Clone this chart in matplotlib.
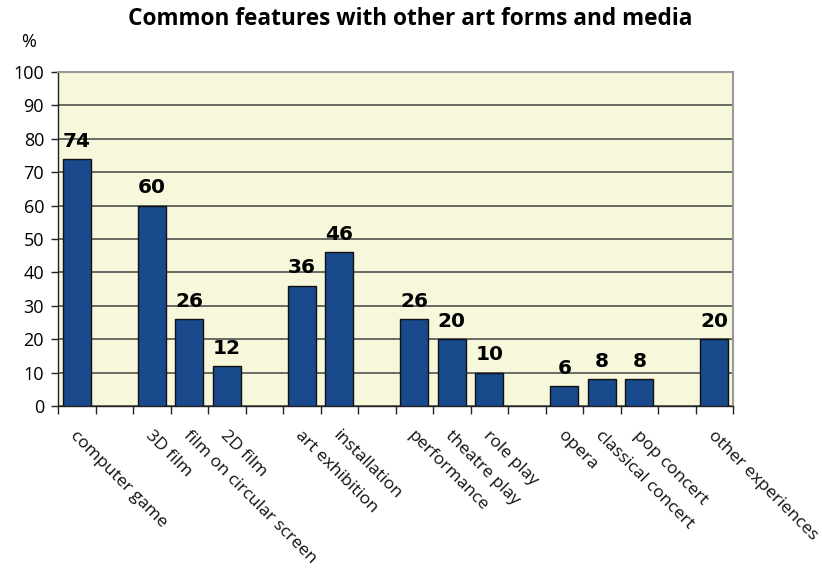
import matplotlib
matplotlib.use("Agg")
import matplotlib.pyplot as plt
import matplotlib.transforms as mtransforms

categories = ["computer game", "", "3D film", "film on circular screen", "2D film", "",
              "art exhibition", "installation", "", "performance", "theatre play", "role play", "",
              "opera", "classical concert", "pop concert", "", "other experiences"]
values = [74, None, 60, 26, 12, None, 36, 46, None, 26, 20, 10, None, 6, 8, 8, None, 20]
yticks = [0, 10, 20, 30, 40, 50, 60, 70, 80, 90, 100]

fig = plt.figure(figsize=(8.22, 5.8), dpi=100)
ax = fig.add_axes([58/822, 1-406/580, (733-58)/822, (406-72)/580])
ax.set_facecolor("#F7F7DC")

n = len(categories)
xs = [i for i, v in enumerate(values) if v is not None]
vs = [v for v in values if v is not None]
bars = ax.bar(xs, vs, width=0.75, color="#184A8C", edgecolor="#111111", linewidth=1.0, zorder=3)

ax.set_xlim(-0.5, n - 0.5)
ax.set_ylim(0, 100)
ax.set_yticks(yticks)
ax.set_yticklabels([str(t) for t in yticks], fontsize=13, family="Open Sans")
ax.set_xticks([i - 0.5 for i in range(n + 1)])
ax.set_xticklabels([])
ax.tick_params(axis="x", length=6, width=1, color="#222222", direction="out")
ax.tick_params(axis="y", length=5, width=1, color="#222222", direction="out", pad=5)

ax.grid(axis="y", color="#444444", linewidth=1.1, zorder=1)
ax.set_axisbelow(True)
for s in ["top", "right"]:
    ax.spines[s].set_color("#999999")
    ax.spines[s].set_linewidth(1.5)
for s in ["left", "bottom"]:
    ax.spines[s].set_color("#222222")
    ax.spines[s].set_linewidth(1.0)

for x, v in zip(xs, vs):
    ax.annotate(str(v), (x, v), xytext=(0, 6), textcoords="offset points",
                ha="center", va="bottom", fontsize=14.5, fontweight="heavy",
                family="DejaVu Sans", zorder=4)

offset = mtransforms.ScaledTranslation(2/100, -22/100, fig.dpi_scale_trans)
trans = mtransforms.blended_transform_factory(ax.transData, ax.transAxes) + offset
for i, c in enumerate(categories):
    if c:
        ax.text(i, 0, c, transform=trans, rotation=-45, rotation_mode="anchor",
                ha="left", va="top", fontsize=12.6, family="Open Sans", color="#111111")

fig.text(410/822, 1 - 19/580, "Common features with other art forms and media",
         ha="center", va="center", fontsize=16.3, fontweight="bold", family="Open Sans")
fig.text(29/822, 1 - 42/580, "%", ha="center", va="center", fontsize=13, family="Open Sans")

fig.savefig("out.png", dpi=100)
